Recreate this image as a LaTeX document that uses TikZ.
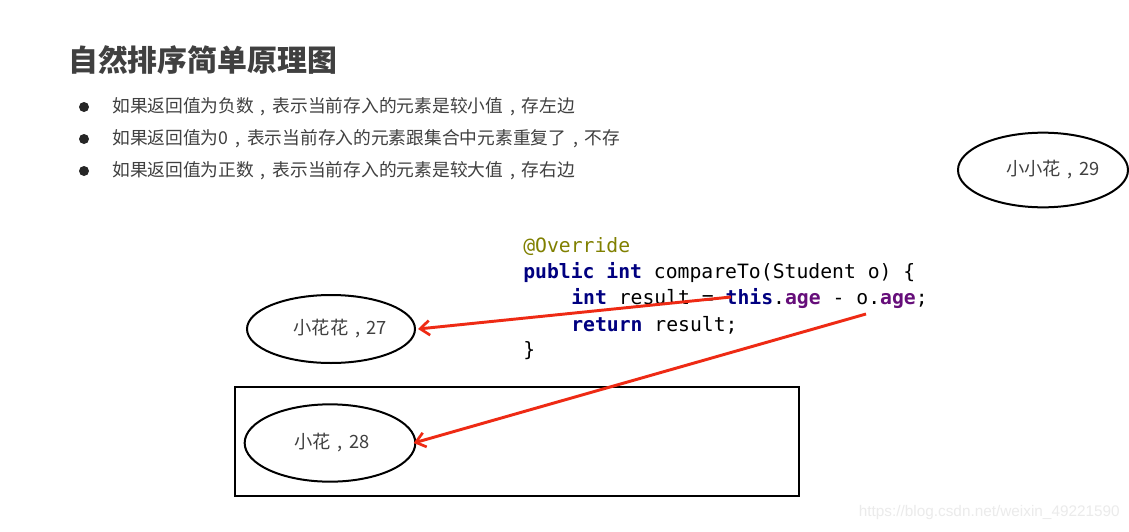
\documentclass[tikz,border=0pt]{standalone}
\usepackage{fontspec}
\setmainfont{Liberation Sans}
\newfontfamily\cjk{Noto Sans CJK SC}
\newfontfamily\codefont{DejaVu Sans Mono}
\usetikzlibrary{shapes.geometric,arrows.meta}
\definecolor{txtgray}{RGB}{64,64,64}
\definecolor{arrred}{RGB}{238,42,20}
\definecolor{kwnavy}{RGB}{0,0,128}
\definecolor{fieldpurple}{RGB}{102,14,122}
\definecolor{annolive}{RGB}{128,128,0}
\definecolor{wmgray}{RGB}{235,235,235}
\tikzset{
  titletext/.style={anchor=west,inner sep=0pt,text=txtgray,font=\cjk\bfseries\fontsize{22.4pt}{26pt}\selectfont},
  bullettext/.style={anchor=west,inner sep=0pt,text=txtgray,font=\cjk\fontsize{13.3pt}{16pt}\selectfont},
  bulletdot/.style={circle,fill=black!85,inner sep=0pt,minimum size=7.5pt},
  codeline/.style={anchor=west,inner sep=0pt,text=black,font=\codefont\fontsize{14.8pt}{18pt}\selectfont},
  person/.style={ellipse,draw=black,line width=1.5pt,inner sep=0pt,text=txtgray,font=\cjk\fontsize{13.7pt}{16pt}\selectfont},
  setbox/.style={rectangle,draw=black,line width=1.5pt,inner sep=0pt},
  redarrow/.style={draw=arrred,line width=2.2pt,-{Straight Barb[length=7pt,width=11pt,line width=2pt]}},
}
\newcommand{\kw}[1]{\textcolor{kwnavy}{\bfseries #1}}
\newcommand{\fld}[1]{\textcolor{fieldpurple}{\bfseries #1}}
\newcommand{\bcomma}{\makebox[1.05em][c]{,}}
\newcommand{\ecomma}{\makebox[1em][c]{,}}
\begin{document}
\begin{tikzpicture}[x=0.75pt,y=-0.75pt]
\useasboundingbox (0,0) rectangle (1129,532);
\fill[white] (0,0) rectangle (1129,532);
% title
\node[titletext] (title) at (68,60) {自然排序简单原理图};
% bullets
\node[bulletdot] (d1) at (84,107) {};
\node[bulletdot] (d2) at (84,139) {};
\node[bulletdot] (d3) at (84,171) {};
\node[bullettext] (b1) at (112,107) {如果返回值为负数\bcomma 表示当前存入的元素是较小值\bcomma 存左边};
\node[bullettext] (b2) at (112,139) {如果返回值为0\bcomma 表示当前存入的元素跟集合中元素重复了\bcomma 不存};
\node[bullettext] (b3) at (112,171) {如果返回值为正数\bcomma 表示当前存入的元素是较大值\bcomma 存右边};
% code
\node[codeline] (c1) at (523,247) {\textcolor{annolive}{@Override}};
\node[codeline] (c2) at (523,273) {\kw{public} \kw{int} compareTo(Student o) \{};
\node[codeline] (c3) at (571,299) {\kw{int} result = \kw{this}.\fld{age} - o.\fld{age};};
\node[codeline] (c4) at (571,325) {\kw{return} result;};
\node[codeline] (c5) at (523,351) {\}};
% set box
\node[setbox,minimum width=423pt,minimum height=81.75pt] (box) at (517,441.5) {};
% ellipses
\node[person,minimum width=127.5pt,minimum height=56pt] (e29) at (1043,170) {\hspace*{15pt}小小花\ecomma 29};
\node[person,minimum width=126pt,minimum height=51pt] (e27) at (331,329) {\hspace*{14pt}小花花\ecomma 27};
\node[person,minimum width=128pt,minimum height=58pt] (e28) at (330,443) {\hspace*{3pt}小花\ecomma 28};
% arrows
\coordinate (s1) at (731,297);
\coordinate (s2) at (866,314);
\draw[redarrow] (s1) -- ([xshift=1.5pt]e27.east);
\draw[redarrow] (s2) -- ([xshift=-2pt]e28.east);
% watermark
\node[anchor=east,inner sep=0pt,text=wmgray,font=\fontsize{11.5pt}{13pt}\selectfont] (wm) at (1120,513) {https://blog.csdn.net/weixin\_49221590};
\end{tikzpicture}
\end{document}
